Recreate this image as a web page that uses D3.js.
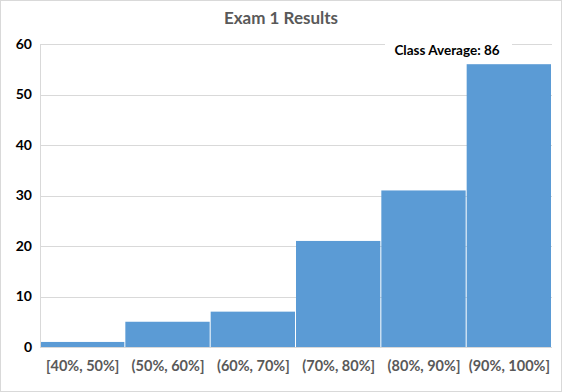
<!DOCTYPE html>
<html><head><meta charset="utf-8">
<script src="https://cdn.jsdelivr.net/npm/d3@7"></script>
<style>body{margin:0;background:#fff}svg{display:block}</style>
</head><body>
<script>
const categories = ["[40%, 50%]", "(50%, 60%]", "(60%, 70%]", "(70%, 80%]", "(80%, 90%]", "(90%, 100%]"];
const counts = [1, 5, 7, 21, 31, 56];
const yTicks = [0, 10, 20, 30, 40, 50, 60];
const title = "Exam 1 Results";
const annotation = "Class Average: 86";

const W = 562, H = 392;
const m = {left: 40, right: 10, top: 44, bottom: 45};
const font = "Lato, 'Open Sans', sans-serif";
const svg = d3.select("body").append("svg").attr("width", W).attr("height", H);
svg.append("rect").attr("x", 0.5).attr("y", 0.5).attr("width", W - 1).attr("height", H - 1)
  .attr("fill", "#fff").attr("stroke", "#d9d9d9");

const x = d3.scaleBand().domain(categories).range([m.left, W - m.right]).padding(0);
const y = d3.scaleLinear().domain([0, 60]).range([H - m.bottom, m.top]);

// gridlines
svg.append("g").selectAll("line").data(yTicks.filter(d => d > 0)).join("line")
  .attr("x1", m.left).attr("x2", W - m.right)
  .attr("y1", d => Math.round(y(d)) + 0.5).attr("y2", d => Math.round(y(d)) + 0.5)
  .attr("stroke", "#d9d9d9");

// bars
svg.append("g").selectAll("rect").data(counts).join("rect")
  .attr("x", (d, i) => x(categories[i]))
  .attr("width", x.bandwidth() - 1)
  .attr("y", d => y(d))
  .attr("height", d => y(0) - y(d))
  .attr("fill", "#5b9bd5");

// axes lines
svg.append("line").attr("x1", m.left + 0.5).attr("x2", m.left + 0.5)
  .attr("y1", y(60)).attr("y2", y(0)).attr("stroke", "#d9d9d9");
svg.append("line").attr("x1", m.left).attr("x2", W - m.right)
  .attr("y1", Math.round(y(0)) + 0.5).attr("y2", Math.round(y(0)) + 0.5).attr("stroke", "#d9d9d9");

// y axis labels
const yAxis = d3.axisLeft(y).tickValues(yTicks).tickSize(0).tickPadding(8);
const gy = svg.append("g").attr("transform", `translate(${m.left},0)`).call(yAxis);
gy.select(".domain").remove();
gy.selectAll("text").attr("font-family", font).attr("font-weight", "bold")
  .attr("font-size", 14).attr("fill", "#000");

// x axis labels
const xAxis = d3.axisBottom(x).tickSize(0).tickPadding(14);
const gx = svg.append("g").attr("transform", `translate(0,${y(0)})`).call(xAxis);
gx.select(".domain").remove();
gx.selectAll("text").attr("font-family", font).attr("font-weight", "bold")
  .attr("font-size", 14.5).attr("fill", "#595959");

// title
svg.append("text").attr("x", 281).attr("y", 24).attr("text-anchor", "middle")
  .attr("font-family", font).attr("font-weight", "bold").attr("font-size", 17)
  .attr("fill", "#595959").text(title);

// annotation box
svg.append("rect").attr("x", 385).attr("y", 34).attr("width", 127).attr("height", 28).attr("fill", "#fff");
svg.append("text").attr("x", 447).attr("y", 55).attr("text-anchor", "middle")
  .attr("font-family", font).attr("font-weight", "bold").attr("font-size", 13.5)
  .attr("fill", "#000").text(annotation);
</script>
</body></html>
